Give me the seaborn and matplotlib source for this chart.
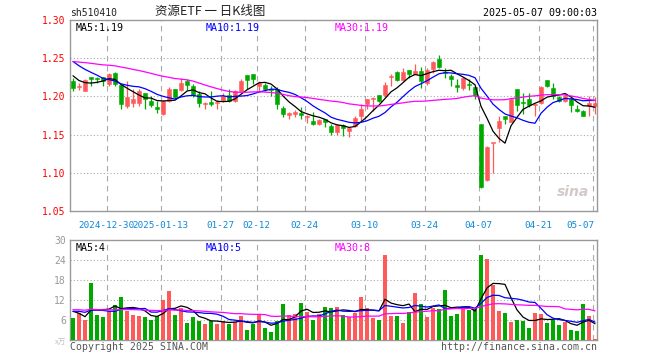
import numpy as np
import pandas as pd
import matplotlib
matplotlib.use("Agg")
import matplotlib.pyplot as plt
import seaborn as sns

# sh510410 daily candles, 2024-12-20 .. 2025-05-07
opens = [1.220, 1.212, 1.207, 1.225, 1.224, 1.225, 1.216, 1.231, 1.215, 1.188,
         1.191, 1.192, 1.204, 1.194, 1.186, 1.177, 1.194, 1.210, 1.208, 1.220,
         1.214, 1.203, 1.190, 1.193, 1.191, 1.195, 1.202, 1.194, 1.207, 1.228,
         1.229, 1.213, 1.215, 1.210, 1.210, 1.185, 1.176, 1.177, 1.178, 1.173,
         1.168, 1.164, 1.170, 1.161, 1.153, 1.162, 1.155, 1.161, 1.175, 1.190,
         1.196, 1.202, 1.202, 1.225, 1.232, 1.222, 1.235, 1.229, 1.233, 1.218,
         1.236, 1.249, 1.232, 1.227, 1.215, 1.211, 1.216, 1.212, 1.164, 1.090,
         1.139, 1.158, 1.175, 1.167, 1.210, 1.193, 1.196, 1.189, 1.192, 1.221,
         1.211, 1.199, 1.194, 1.197, 1.183, 1.181, 1.187, 1.187]
highs = [1.224, 1.218, 1.223, 1.225, 1.225, 1.225, 1.231, 1.232, 1.215, 1.220,
         1.210, 1.210, 1.205, 1.200, 1.194, 1.195, 1.212, 1.210, 1.224, 1.223,
         1.216, 1.207, 1.193, 1.207, 1.195, 1.205, 1.210, 1.208, 1.223, 1.228,
         1.229, 1.220, 1.217, 1.214, 1.212, 1.188, 1.180, 1.182, 1.186, 1.176,
         1.180, 1.170, 1.171, 1.164, 1.164, 1.164, 1.160, 1.175, 1.190, 1.197,
         1.199, 1.202, 1.219, 1.229, 1.233, 1.237, 1.235, 1.243, 1.238, 1.237,
         1.246, 1.254, 1.237, 1.229, 1.223, 1.225, 1.223, 1.213, 1.164, 1.135,
         1.139, 1.175, 1.175, 1.196, 1.210, 1.205, 1.205, 1.190, 1.213, 1.221,
         1.218, 1.201, 1.203, 1.201, 1.189, 1.182, 1.201, 1.199]
lows = [1.207, 1.209, 1.207, 1.214, 1.218, 1.214, 1.214, 1.213, 1.184, 1.185,
        1.186, 1.188, 1.183, 1.186, 1.178, 1.176, 1.193, 1.197, 1.207, 1.209,
        1.199, 1.186, 1.183, 1.188, 1.183, 1.193, 1.193, 1.193, 1.207, 1.210,
        1.216, 1.207, 1.207, 1.201, 1.183, 1.173, 1.170, 1.173, 1.170, 1.165,
        1.162, 1.163, 1.160, 1.149, 1.150, 1.148, 1.147, 1.160, 1.168, 1.183,
        1.181, 1.193, 1.199, 1.214, 1.220, 1.220, 1.224, 1.229, 1.211, 1.215,
        1.231, 1.237, 1.224, 1.214, 1.206, 1.209, 1.209, 1.197, 1.080, 1.089,
        1.100, 1.140, 1.164, 1.167, 1.181, 1.177, 1.186, 1.175, 1.190, 1.212,
        1.196, 1.193, 1.193, 1.179, 1.179, 1.175, 1.175, 1.177]
closes = [1.211, 1.214, 1.221, 1.223, 1.223, 1.220, 1.229, 1.216, 1.190, 1.199,
          1.197, 1.207, 1.197, 1.189, 1.183, 1.194, 1.210, 1.199, 1.217, 1.215,
          1.202, 1.192, 1.191, 1.190, 1.193, 1.200, 1.194, 1.207, 1.220, 1.222,
          1.223, 1.217, 1.210, 1.209, 1.190, 1.177, 1.178, 1.180, 1.176, 1.175,
          1.164, 1.169, 1.166, 1.153, 1.162, 1.158, 1.158, 1.172, 1.183, 1.196,
          1.198, 1.194, 1.215, 1.227, 1.222, 1.232, 1.229, 1.233, 1.220, 1.235,
          1.245, 1.238, 1.230, 1.223, 1.212, 1.224, 1.215, 1.202, 1.082, 1.134,
          1.139, 1.168, 1.171, 1.196, 1.189, 1.191, 1.189, 1.190, 1.212, 1.213,
          1.200, 1.194, 1.200, 1.189, 1.181, 1.175, 1.192, 1.192]
volumes = [6.7, 8.1, 5.9, 17.0, 7.6, 7.0, 8.8, 10.6, 13.0, 8.8,
           7.6, 7.3, 7.0, 6.1, 7.3, 11.9, 14.6, 7.6, 9.7, 5.2,
           7.0, 5.8, 4.9, 5.8, 4.9, 5.8, 4.9, 5.5, 7.3, 3.1,
           4.9, 7.9, 3.7, 2.5, 5.8, 10.9, 7.6, 7.9, 11.2, 8.5,
           6.1, 7.9, 10.0, 9.7, 10.0, 7.6, 7.0, 8.2, 13.0, 9.7,
           6.7, 6.1, 25.6, 7.3, 7.3, 5.2, 8.5, 14.2, 10.9, 7.0,
           9.7, 9.4, 15.0, 7.3, 7.9, 9.7, 9.1, 9.4, 25.6, 24.3,
           16.5, 8.8, 8.2, 5.5, 6.1, 5.8, 3.7, 8.2, 7.9, 5.2,
           6.1, 4.6, 5.5, 3.1, 2.8, 10.9, 7.3, 0.3]

# sessions before the window, only used to seed the moving averages
prior_closes = [1.238, 1.242, 1.250, 1.255, 1.248, 1.244, 1.240, 1.236, 1.242, 1.248,
                1.252, 1.250, 1.246, 1.244, 1.248, 1.252, 1.246, 1.240, 1.244, 1.249,
                1.270, 1.268, 1.262, 1.260, 1.262, 1.245, 1.235, 1.226, 1.218]
prior_volumes = [9, 10, 8, 11, 9, 8, 12, 10, 9, 8, 9, 10, 8, 9, 11, 10, 9, 8, 10, 9,
                 8, 9, 10, 8, 8, 11, 11, 7, 7.3]

tick_pos = [6, 15, 25, 31, 39, 49, 59, 68, 78, 87]
tick_labels = ["2024-12-30", "2025-01-13", "01-27", "02-12", "02-24",
               "03-10", "03-24", "04-07", "04-21", "05-07"]
price_ticks = [1.05, 1.10, 1.15, 1.20, 1.25, 1.30]
vol_ticks = [6, 12, 18, 24, 30]

RED = "#ff5a5a"
GREEN = "#00a800"
GRID = "#aaaaaa"
MA_COLORS = {5: "black", 10: "#0000ff", 30: "#ff00ff"}

sns.set_theme(style="white")
plt.rcParams["font.family"] = ["DejaVu Sans Mono", "Noto Sans CJK SC"]

n = len(closes)
df = pd.DataFrame({"i": np.arange(n), "open": opens, "high": highs, "low": lows,
                   "close": closes, "vol": volumes})
df["up"] = df["close"] >= df["open"]

all_close = pd.Series(prior_closes + closes)
all_vol = pd.Series(prior_volumes + volumes)
k0 = len(prior_closes)
for w in (5, 10, 30):
    df[f"ma{w}"] = all_close.rolling(w).mean().iloc[k0:].values
    df[f"vma{w}"] = all_vol.rolling(w).mean().iloc[k0:].values

fig = plt.figure(figsize=(6.6, 3.6), dpi=100)
ax = fig.add_axes([70 / 660, 1 - 211 / 360, 527 / 660, 191 / 360])
axv = fig.add_axes([70 / 660, 1 - 340 / 360, 527 / 660, 100 / 360])

cols = [RED if u else GREEN for u in df["up"]]

# --- candles ---
ax.vlines(df["i"], df["low"], df["high"], colors=cols, lw=0.9, zorder=2)
body_lo = np.minimum(df["open"], df["close"])
body_h = np.maximum((df["close"] - df["open"]).abs(), 0.0008)
ax.bar(df["i"], body_h, bottom=body_lo, width=0.8, color=cols,
       edgecolor=cols, linewidth=0.4, zorder=3)
for w in (5, 10, 30):
    sns.lineplot(data=df, x="i", y=f"ma{w}", ax=ax, color=MA_COLORS[w], lw=0.9, zorder=4)

# --- volume ---
axv.bar(df["i"], df["vol"], width=0.8, color=cols, linewidth=0, zorder=3)
for w in (5, 10, 30):
    sns.lineplot(data=df, x="i", y=f"vma{w}", ax=axv, color=MA_COLORS[w], lw=0.9, zorder=4)

for a in (ax, axv):
    a.set_xlim(-0.5, n - 0.67)
    for s in a.spines.values():
        s.set_color("#999999")
        s.set_linewidth(1)
    for p in tick_pos:
        a.axvline(p - 0.4, color=GRID, lw=0.8, ls=(0, (5, 4)), zorder=0)
    a.set_xticks([])
    a.set_xlabel("")
    a.set_ylabel("")
    a.tick_params(length=0, pad=3)

ax.set_ylim(1.05, 1.30)
ax.set_yticks(price_ticks)
ax.set_yticklabels([f"{v:.2f}" for v in price_ticks], color="red", fontsize=7)
for v in price_ticks[1:-1]:
    ax.axhline(v, color=GRID, lw=0.8, ls=(0, (1, 2)), zorder=0)

axv.set_ylim(0, 30)
axv.set_yticks(vol_ticks)
axv.set_yticklabels([str(v) for v in vol_ticks], color="#999999", fontsize=7)
for v in vol_ticks[:-1]:
    axv.axhline(v, color=GRID, lw=0.8, ls=(0, (1, 2)), zorder=0)

# date labels under the candle panel
for p, lab in zip(tick_pos, tick_labels):
    ha = "right" if p == tick_pos[-1] else "center"
    xx = p - 0.1 if ha == "right" else p - 0.4
    ax.text(xx, 1.05 - 0.013, lab, ha=ha, va="top", color="#0a88d8", fontsize=6.7,
            clip_on=False)

last = df.iloc[-1]
for xpos, w in zip((0.01, 0.257, 0.503), (5, 10, 30)):
    ax.text(xpos, 0.985, f"MA{w}:{last[f'ma{w}']:.2f}", transform=ax.transAxes,
            va="top", fontsize=7.2, color=MA_COLORS[w])
    axv.text(xpos, 0.97, f"MA{w}:{int(last[f'vma{w}'])}", transform=axv.transAxes,
             va="top", fontsize=7.2, color=MA_COLORS[w])
ax.text(0.955, 0.1, "sina", transform=ax.transAxes, ha="center", va="center",
        fontsize=10, fontstyle="italic", fontweight="bold", color="#d6c8c8",
        family=["DejaVu Sans"])

# --- header / footer ---
fig.text(70 / 660, 1 - 13 / 360, "sh510410", va="center", fontsize=7, color="#222222")
fig.text(210 / 660, 1 - 12 / 360, "资源ETF 一 日K线图", ha="center", va="center",
         fontsize=9, color="#222222", family=["Noto Sans CJK SC"])
fig.text(597 / 660, 1 - 13 / 360, "2025-05-07 09:00:03", ha="right", va="center",
         fontsize=7.2, color="black")
fig.text(66 / 660, 1 - 343 / 360, "x万", ha="right", va="center", fontsize=5.5,
         color="#c0c0c0", family=["Noto Sans CJK SC"])
fig.text(70 / 660, 1 - 347 / 360, "Copyright 2025 SINA.COM", va="center",
         fontsize=7.1, color="#555555")
fig.text(597 / 660, 1 - 347 / 360, "http://finance.sina.com.cn", ha="right",
         va="center", fontsize=7.1, color="#555555")

fig.savefig("out.png", dpi=100, facecolor="white")
plt.close(fig)
